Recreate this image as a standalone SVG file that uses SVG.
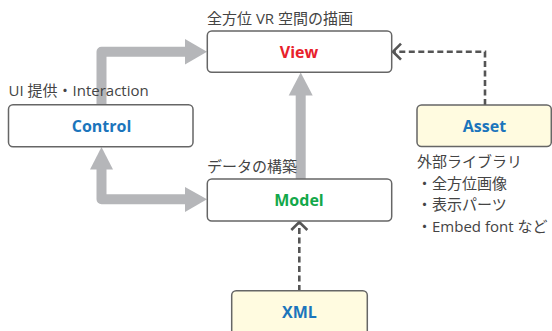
<svg xmlns="http://www.w3.org/2000/svg" width="552" height="331" viewBox="0 0 552 331">
<style>
.box{fill:#fff;stroke:#666;stroke-width:1.5}
.yel{fill:#fffbe0;stroke:#666;stroke-width:1.5}
.lbl{font-family:"Open Sans","Noto Sans",sans-serif;font-weight:bold;font-size:16px;text-anchor:middle}
.cap{font-family:"Open Sans","Noto Sans CJK JP",sans-serif;font-size:15px;fill:#444}
.thick{fill:none;stroke:#b5b6b9;stroke-width:10;stroke-linejoin:round}
.head{fill:#b5b6b9}
.dash{fill:none;stroke:#555;stroke-width:2.6;stroke-dasharray:6 3.5}
.chev{fill:none;stroke:#555;stroke-width:2.6}
</style>
<rect width="552" height="331" fill="#fff"/>
<g id="connectors">
  <path class="thick" d="M101.5,104.7 V51.7 H186"/>
  <polygon class="head" points="185,39 207,51.7 185,64.5"/>
  <path class="thick" d="M101.5,168 V199.3 H186"/>
  <polygon class="head" points="90,169.5 101.5,147 113,169.5"/>
  <polygon class="head" points="185,187 207,199.3 185,212"/>
  <path class="thick" d="M300.7,179 V94"/>
  <polygon class="head" points="288.7,95.5 300.7,72.5 312.7,95.5"/>
  <path class="dash" d="M485,105 V51.7 H395"/>
  <path class="chev" d="M401,43.7 L393,51.7 L401,59.7"/>
  <path class="dash" d="M299.3,291 V224"/>
  <path class="chev" d="M291.3,230 L299.3,222 L307.3,230"/>
</g>
<g id="view">
  <rect class="box" x="207.3" y="31" width="184.4" height="41.2" rx="4.5"/>
  <text class="lbl" x="299" y="57.5" fill="#e8212b">View</text>
  <text class="cap" x="207" y="24">全方位 VR 空間の描画</text>
</g>
<g id="control">
  <rect class="box" x="8.5" y="104.7" width="184.5" height="42" rx="4.5"/>
  <text class="lbl" x="101.5" y="131.5" fill="#1b75bc">Control</text>
  <text class="cap" x="8.5" y="96">UI 提供・Interaction</text>
</g>
<g id="model">
  <rect class="box" x="207.3" y="179" width="184.4" height="42" rx="4.5"/>
  <text class="lbl" x="299" y="205.5" fill="#13a84a">Model</text>
  <text class="cap" x="207" y="172">データの構築</text>
</g>
<g id="asset">
  <rect class="yel" x="417" y="105" width="134.3" height="41.5" rx="4.5"/>
  <text class="lbl" x="484.5" y="131.5" fill="#1b75bc">Asset</text>
  <text class="cap" x="417" y="167">外部ライブラリ</text>
  <text class="cap" x="417" y="188.5">・全方位画像</text>
  <text class="cap" x="417" y="210">・表示パーツ</text>
  <text class="cap" x="417" y="231.5">・Embed font など</text>
</g>
<g id="xml">
  <rect class="yel" x="231.7" y="290.7" width="135.6" height="50" rx="4.5"/>
  <text class="lbl" x="299.5" y="317.5" fill="#1b75bc">XML</text>
</g>
</svg>
